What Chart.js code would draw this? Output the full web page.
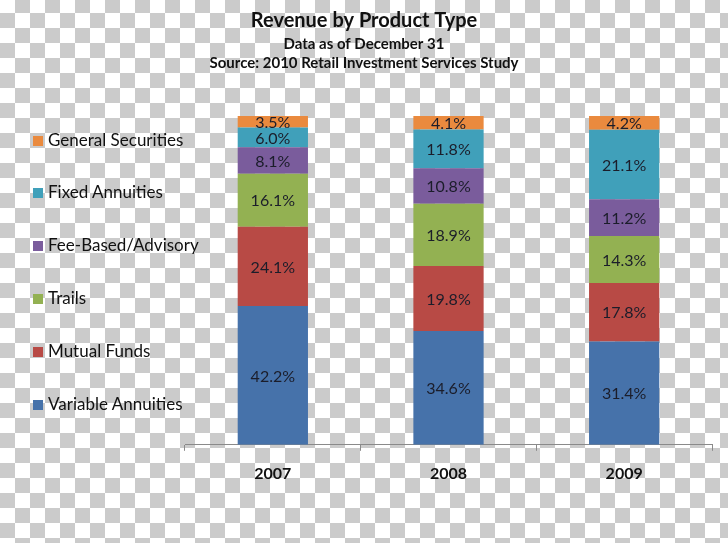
<!DOCTYPE html>
<html>
<head>
<meta charset="utf-8">
<script src="https://cdn.jsdelivr.net/npm/chart.js@4"></script>
<style>
  html, body { margin: 0; padding: 0; }
  body {
    width: 728px; height: 543px; overflow: hidden; position: relative;
    background: repeating-conic-gradient(#cbcbcb 0 25%, #ffffff 0 50%);
    background-size: 30px 30px;
    background-position: 0 -2px;
    font-family: Lato, "Open Sans", sans-serif;
  }
  #wrap { position: absolute; left: 0; top: 0; width: 728px; height: 543px; }
  #legend { position: absolute; left: 33px; top: 0; }
  .item { position: absolute; left: 0; white-space: nowrap; font-size: 17px; color: #111; line-height: 20px; }
  .box { display: inline-block; width: 10px; height: 10px; margin-right: 5px; vertical-align: 0px; }
</style>
</head>
<body>
<div id="wrap"><canvas id="chart" width="728" height="543"></canvas></div>
<div id="legend"></div>
<script>
const years = ['2007', '2008', '2009'];
const seriesNames = ['Variable Annuities', 'Mutual Funds', 'Trails', 'Fee-Based/Advisory', 'Fixed Annuities', 'General Securities'];
const variableAnnuities = [42.2, 34.6, 31.4];
const mutualFunds = [24.1, 19.8, 17.8];
const trails = [16.1, 18.9, 14.3];
const feeBased = [8.1, 10.8, 11.2];
const fixedAnnuities = [6.0, 11.8, 21.1];
const generalSecurities = [3.5, 4.1, 4.2];
const colors = ['#4672aa', '#b84a45', '#93b152', '#7a5c9c', '#40a0ba', '#ea8a3e'];

const seriesValues = [variableAnnuities, mutualFunds, trails, feeBased, fixedAnnuities, generalSecurities];

const datasets = seriesNames.map((name, i) => ({
  label: name,
  data: seriesValues[i],
  backgroundColor: colors[i],
  borderWidth: 0,
  barPercentage: 0.8,
  categoryPercentage: 0.5
}));

const segmentLabels = {
  id: 'segmentLabels',
  afterDatasetsDraw(chart) {
    const ctx = chart.ctx;
    ctx.save();
    ctx.font = '16px Lato';
    ctx.fillStyle = '#1b1d2a';
    ctx.textAlign = 'center';
    ctx.textBaseline = 'middle';
    chart.data.datasets.forEach((ds, i) => {
      chart.getDatasetMeta(i).data.forEach((bar, j) => {
        ctx.fillText(ds.data[j].toFixed(1) + '%', bar.x, (bar.y + bar.base) / 2 + 1);
      });
    });
    ctx.restore();
  }
};

new Chart(document.getElementById('chart'), {
  type: 'bar',
  data: { labels: years, datasets: datasets },
  options: {
    responsive: false,
    animation: false,
    layout: { padding: { left: 16, right: 16, top: 0, bottom: 47 } },
    plugins: {
      legend: { display: false },
      tooltip: { enabled: false },
      title: {
        display: true,
        text: 'Revenue by Product Type',
        color: '#111',
        font: { family: 'Lato', size: 20, weight: 'bold' },
        padding: { top: 9, bottom: 1 }
      },
      subtitle: {
        display: true,
        text: ['Data as of December 31', 'Source: 2010 Retail Investment Services Study'],
        color: '#111',
        font: { family: 'Lato', size: 15, weight: 'bold', lineHeight: 1.3 },
        padding: { top: 0, bottom: 43 }
      }
    },
    scales: {
      x: {
        stacked: true,
        border: { color: '#8a8a8a', width: 1 },
        grid: { offset: true, drawOnChartArea: false, drawTicks: true, tickLength: 6, color: '#8a8a8a' },
        ticks: { color: '#111', padding: 13, font: { family: 'Lato', size: 16, weight: 'bold' } }
      },
      y: {
        stacked: true,
        display: true,
        min: 0,
        max: 100,
        grid: { display: false },
        border: { display: false },
        ticks: { display: false },
        afterFit(axis) { axis.width = 169; }
      }
    }
  },
  plugins: [segmentLabels]
});

// legend, top item is the last series
const legendTops = [140, 192, 245, 298, 351, 404];
const legend = document.getElementById('legend');
seriesNames.slice().reverse().forEach((name, k) => {
  const idx = seriesNames.length - 1 - k;
  const item = document.createElement('div');
  item.className = 'item';
  item.style.top = (legendTops[k] - 10) + 'px';
  const box = document.createElement('span');
  box.className = 'box';
  box.style.background = colors[idx];
  item.appendChild(box);
  item.appendChild(document.createTextNode(name));
  legend.appendChild(item);
});
</script>
</body>
</html>
